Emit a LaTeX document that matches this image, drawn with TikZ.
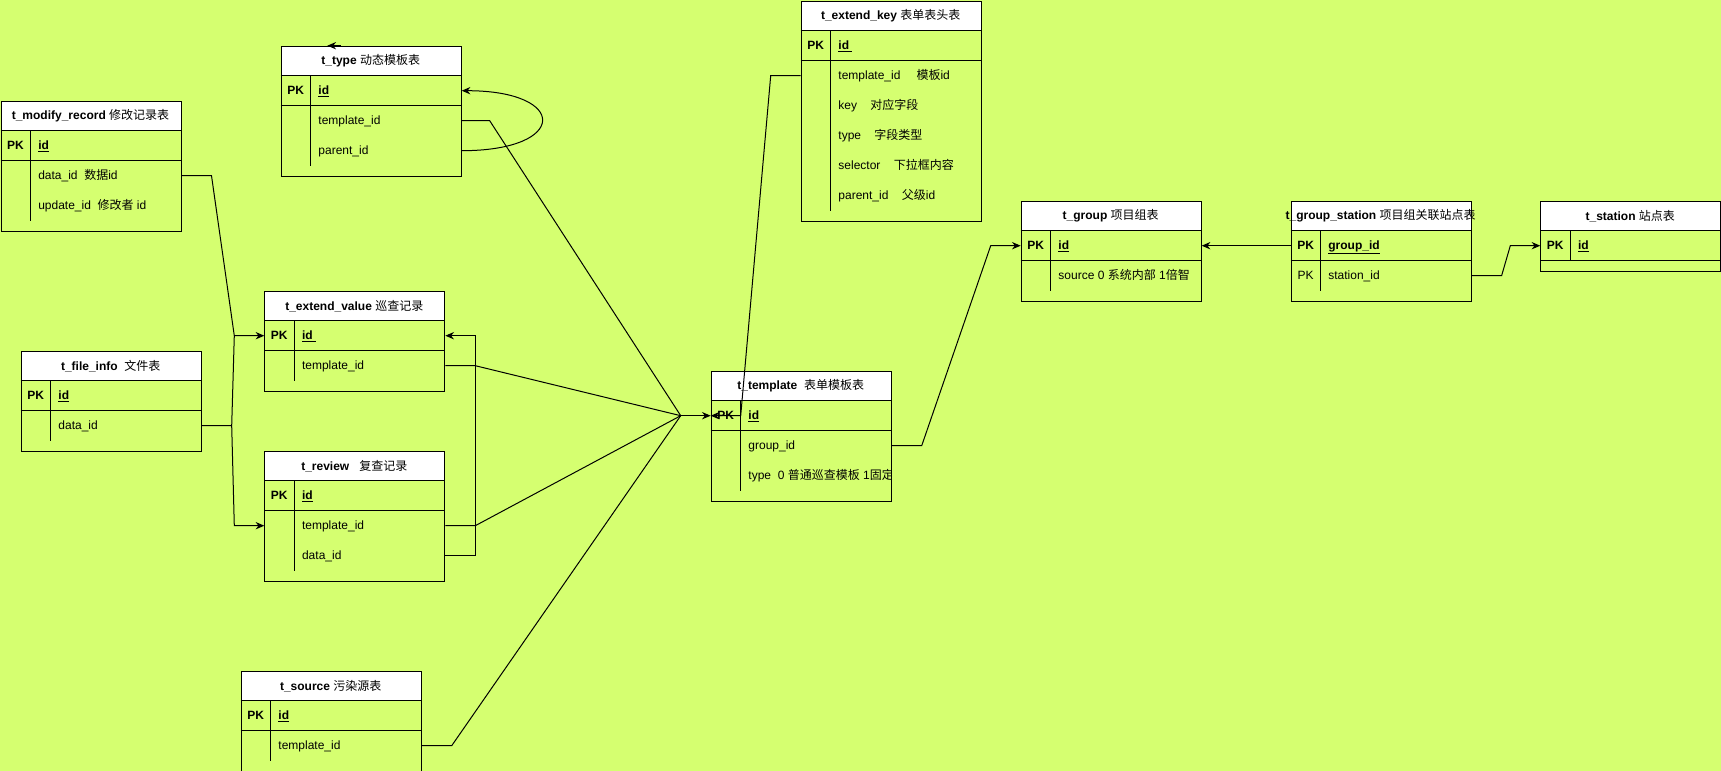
\documentclass[tikz,border=0pt]{standalone}
\usepackage{fontspec}
\setmainfont{Liberation Sans}
\newfontfamily\cjkfont{Noto Sans CJK SC}
\usetikzlibrary{arrows.meta,calc}
\definecolor{limebg}{RGB}{213,255,112}
\newcommand{\zh}[1]{{\cjkfont\mdseries #1}}
\tikzset{
  tbox/.style={draw, line width=0.75pt, inner sep=0pt, minimum width=135pt, anchor=north west},
  ttl/.style={font=\fontsize{9}{11}\selectfont\bfseries, inner sep=0pt},
  fld/.style={font=\fontsize{9}{11}\selectfont, inner sep=0pt, anchor=west, text height=7pt, text depth=2pt},
  keyfld/.style={fld, font=\fontsize{9}{11}\selectfont\bfseries},
  pk/.style={keyfld, anchor=center},
  conn/.style={line width=0.75pt},
  arr/.style={conn, -{Stealth[length=6.5pt,width=5.5pt]}},
}
% table frame: name, left, top, rows below PK, title
\newcommand{\erframe}[5]{%
  \fill[white] (#2,#3) rectangle ++(180,30);
  \node[tbox, minimum height={(30*#4+70)*0.75pt}] (#1) at (#2,#3) {};
  \draw[conn] (#2,#3+30) -- ++(180,0) (#2,#3+60) -- ++(180,0);
  \draw[conn] (#2+30,#3+30) -- ++(0,30*#4+30);
  \node[ttl] (#1-t) at (#2+90,#3+15) {#5};
  \node[pk] (#1-pk) at (#2+15,#3+45) {PK};
}
\begin{document}
\begin{tikzpicture}[x=0.75pt,y=-0.75pt]
  \useasboundingbox (0,0) rectangle (1721,771);
  \fill[limebg] (0,0) rectangle (1721,771);

  % t_modify_record
  \erframe{mr}{0.5}{100.7}{2}{t\_modify\_record \zh{修改记录表}}
  \node[keyfld] (mr-id) at (38,145.7) {\underline{id}};
  \node[fld] (mr-data) at (38,175.7) {data\_id\hspace{5pt}\zh{数据}id};
  \node[fld] (mr-upd) at (38,205.7) {update\_id\hspace{5pt}\zh{修改者} id};

  % t_type
  \erframe{ty}{280.7}{45.7}{2}{t\_type \zh{动态模板表}}
  \node[keyfld] (ty-id) at (318.2,90.7) {\underline{id}};
  \node[fld] (ty-tpl) at (318.2,120.7) {template\_id};
  \node[fld] (ty-par) at (318.2,150.7) {parent\_id};

  % t_file_info
  \erframe{fi}{20.7}{350.7}{1}{t\_file\_info~~\zh{文件表}}
  \node[keyfld] (fi-id) at (58.2,395.7) {\underline{id}};
  \node[fld] (fi-data) at (58.2,425.7) {data\_id};

  % t_extend_value
  \erframe{ev}{264.3}{290.7}{1}{t\_extend\_value \zh{巡查记录}}
  \node[keyfld] (ev-id) at (301.8,335.7) {\underline{id~}};
  \node[fld] (ev-tpl) at (301.8,365.7) {template\_id};

  % t_review
  \erframe{rv}{264.3}{450.7}{2}{t\_review~~~\zh{复查记录}}
  \node[keyfld] (rv-id) at (301.8,495.7) {\underline{id}};
  \node[fld] (rv-tpl) at (301.8,525.7) {template\_id};
  \node[fld] (rv-data) at (301.8,555.7) {data\_id};

  % t_source
  \erframe{so}{240.7}{670.7}{1}{t\_source \zh{污染源表}}
  \node[keyfld] (so-id) at (278.2,715.7) {\underline{id}};
  \node[fld] (so-tpl) at (278.2,745.7) {template\_id};

  % t_extend_key
  \erframe{ek}{800.7}{0.7}{5}{t\_extend\_key \zh{表单表头表}}
  \node[keyfld] (ek-id) at (838.2,45.7) {\underline{id~}};
  \node[fld] (ek-tpl) at (838.2,75.7) {template\_id\hspace{12pt}\zh{模板}id};
  \node[fld] (ek-key) at (838.2,105.7) {key\hspace{10pt}\zh{对应字段}};
  \node[fld] (ek-type) at (838.2,135.7) {type\hspace{10pt}\zh{字段类型}};
  \node[fld] (ek-sel) at (838.2,165.7) {selector\hspace{10pt}\zh{下拉框内容}};
  \node[fld] (ek-par) at (838.2,195.7) {parent\_id\hspace{10pt}\zh{父级}id};

  % t_template
  \erframe{tp}{710.7}{370.7}{2}{t\_template~~\zh{表单模板表}}
  \node[keyfld] (tp-id) at (748.2,415.7) {\underline{id}};
  \node[fld] (tp-grp) at (748.2,445.7) {group\_id};
  \begin{scope}
    \clip (tp.north west) rectangle (tp.south east);
    \node[fld] (tp-type) at (748.2,475.7) {type~~0 \zh{普通巡查模板} 1\zh{固定}};
  \end{scope}

  % t_group
  \erframe{gr}{1020.7}{200.7}{1}{t\_group \zh{项目组表}}
  \node[keyfld] (gr-id) at (1058.2,245.7) {\underline{id}};
  \node[fld] (gr-src) at (1058.2,275.7) {source 0 \zh{系统内部} 1\zh{倍智}};

  % t_group_station
  \erframe{gs}{1290.6}{200.7}{1}{t\_group\_station \zh{项目组关联站点表}}
  \node[fld, anchor=center] (gs-pk2) at (1305.6,275.7) {PK};
  \node[keyfld] (gs-id) at (1328.1,245.7) {\underline{group\_id}};
  \node[fld] (gs-st) at (1328.1,275.7) {station\_id};

  % t_station
  \erframe{st}{1540.3}{200.7}{0}{t\_station \zh{站点表}}
  \node[keyfld] (st-id) at (1577.8,245.7) {\underline{id}};

  % connectors into t_template
  \coordinate (hub) at ($(tp.west |- tp-id)+(-30,0)$);
  \draw[conn] (ty.east |- ty-tpl) -- ++(28,0) -- (hub);
  \draw[conn] (ev.east |- ev-tpl) -- ++(30,0) -- (hub);
  \draw[conn] (rv.east |- rv-tpl) -- ++(30,0) -- (hub);
  \draw[conn] (so.east |- so-tpl) -- ++(30,0) -- (hub);
  \draw[arr] (hub) -- (tp.west |- tp-id);
  \draw[arr] (ek.west |- ek-tpl) -- ++(-30,0) -- ($(tp.west |- tp-id)+(30,0)$) -- (tp.west |- tp-id);

  % t_type
  \draw[arr] (ty.east |- ty-par) .. controls +(107,0) and +(107,0) .. (ty.east |- ty-id);
  \draw[arr] ([xshift=45pt]ty.north west) -- ([xshift=35pt]ty.north west);

  % records
  \draw[arr] (rv.east |- rv-data) -- ++(30,0) |- (ev.east |- ev-id);
  \coordinate (jv) at ($(ev.west |- ev-id)+(-30,0)$);
  \coordinate (jr) at ($(rv.west |- rv-tpl)+(-30,0)$);
  \draw[arr] (mr.east |- mr-data) -- ++(30,0) -- (jv) -- (ev.west |- ev-id);
  \draw[conn] (fi.east |- fi-data) -- ++(30,0) coordinate (jf) -- (jv);
  \draw[arr] (jf) -- (jr) -- (rv.west |- rv-tpl);

  % groups and stations
  \draw[arr] (tp.east |- tp-grp) -- ++(30,0) -- ($(gr.west |- gr-id)+(-30,0)$) -- (gr.west |- gr-id);
  \draw[arr] (gs.west |- gs-id) -- (gr.east |- gr-id);
  \draw[arr] (gs.east |- gs-st) -- ++(30,0) -- ($(st.west |- st-id)+(-30,0)$) -- (st.west |- st-id);
\end{tikzpicture}
\end{document}
